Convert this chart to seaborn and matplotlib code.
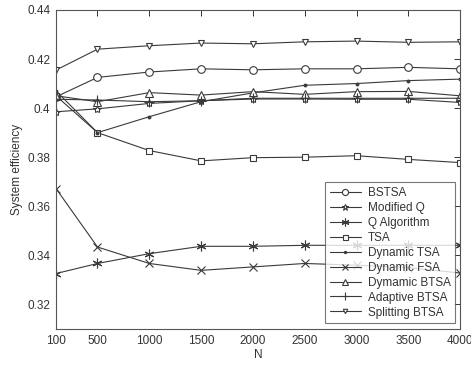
import numpy as np
import pandas as pd
import matplotlib
matplotlib.use("Agg")
import matplotlib.pyplot as plt
import seaborn as sns

N = [100, 500, 1000, 1500, 2000, 2500, 3000, 3500, 4000]

bstsa = [0.4046, 0.4125, 0.4147, 0.4160, 0.4156, 0.4160, 0.4160, 0.4166, 0.4160]
modified_q = [0.3985, 0.3997, 0.4019, 0.4030, 0.4037, 0.4037, 0.4036, 0.4036, 0.4023]
q_algorithm = [0.3326, 0.3367, 0.3407, 0.3437, 0.3437, 0.3441, 0.3441, 0.3441, 0.3441]
tsa = [0.4050, 0.3900, 0.3827, 0.3785, 0.3798, 0.3800, 0.3806, 0.3791, 0.3778]
dynamic_tsa = [0.4070, 0.3900, 0.3965, 0.4026, 0.4062, 0.4093, 0.4100, 0.4112, 0.4118]
dynamic_fsa = [0.3672, 0.3434, 0.3367, 0.3339, 0.3353, 0.3367, 0.3360, 0.3350, 0.3328]
dynamic_btsa = [0.4050, 0.4026, 0.4063, 0.4053, 0.4067, 0.4056, 0.4067, 0.4068, 0.4050]
adaptive_btsa = [0.4036, 0.4033, 0.4026, 0.4030, 0.4040, 0.4040, 0.4040, 0.4040, 0.4040]
splitting_btsa = [0.4155, 0.4240, 0.4254, 0.4265, 0.4262, 0.4270, 0.4273, 0.4268, 0.4270]

names = ["BSTSA", "Modified Q", "Q Algorithm", "TSA", "Dynamic TSA",
         "Dynamic FSA", "Dymamic BTSA", "Adaptive BTSA", "Splitting BTSA"]
series = [bstsa, modified_q, q_algorithm, tsa, dynamic_tsa,
          dynamic_fsa, dynamic_btsa, adaptive_btsa, splitting_btsa]

y_ticks = [0.32, 0.34, 0.36, 0.38, 0.40, 0.42, 0.44]
y_tick_labels = ["0.32", "0.34", "0.36", "0.38", "0.4", "0.42", "0.44"]

# marker style per series: (marker, size, filled)
styles = {
    "BSTSA": ("o", 5.5, False),
    "Modified Q": ("*", 6, False),
    "Q Algorithm": ((6, 2, 0), 7, True),
    "TSA": ("s", 4.5, False),
    "Dynamic TSA": (".", 4, True),
    "Dynamic FSA": ("x", 5.5, True),
    "Dymamic BTSA": ("^", 5.5, False),
    "Adaptive BTSA": ("+", 7, True),
    "Splitting BTSA": ("v", 4, False),
}

df = pd.DataFrame({"N": np.tile(N, len(names)),
                   "value": np.concatenate(series),
                   "method": np.repeat(names, len(N))})

sns.set_theme(style="white")
plt.rcParams["font.family"] = ["Liberation Sans", "DejaVu Sans"]

fig = plt.figure(figsize=(4.71, 3.67), dpi=100)
ax = fig.add_axes([0.119, 0.1035, 0.858, 0.8695])

line_color = "#3a3a3a"
for name in names:
    m, s, filled = styles[name]
    sub = df[df["method"] == name]
    sns.lineplot(data=sub, x="N", y="value", ax=ax, label=name,
                 color=line_color, lw=0.8, marker=m, markersize=s,
                 markerfacecolor=line_color if filled else "white",
                 markeredgecolor=line_color, markeredgewidth=0.8)

ax.set_xlim(100, 4000)
ax.set_ylim(0.31, 0.44)
ax.set_xticks(N)
ax.set_xticklabels([str(v) for v in N])
ax.set_yticks(y_ticks)
ax.set_yticklabels(y_tick_labels)
ax.set_xlabel("N", fontsize=8.5, color="#333333", labelpad=2)
ax.set_ylabel("System efficiency", fontsize=8.5, color="#333333", labelpad=3)
ax.tick_params(direction="in", length=4, width=0.7, colors="#333333",
               labelsize=8.5, top=True, right=True, pad=4)
for sp in ax.spines.values():
    sp.set_color("#555555")
    sp.set_linewidth(0.8)

leg = ax.legend(loc="lower right", bbox_to_anchor=(0.988, 0.018),
                borderaxespad=0, fontsize=8.5, frameon=True, fancybox=False,
                edgecolor="#555555", handlelength=2.6, handletextpad=0.6,
                labelspacing=0.25, borderpad=0.4, markerscale=0.8)
leg.get_frame().set_linewidth(0.8)
for t in leg.get_texts():
    t.set_color("#333333")

fig.savefig("out.png", dpi=100, facecolor="white")
